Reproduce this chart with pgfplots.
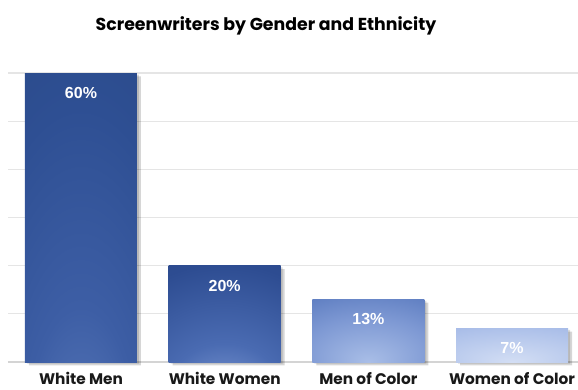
\documentclass[border=0pt]{standalone}
\usepackage{pgfplots}
\pgfplotsset{compat=1.18}
\usepackage{fontspec}
\setmainfont{Liberation Sans}
\newfontfamily\popp{Poppins}
\definecolor{aIn}{HTML}{6282C1}
\definecolor{aM1}{HTML}{3D5EA5}
\definecolor{aM2}{HTML}{2E4F93}
\definecolor{aM3}{HTML}{27457F}
\definecolor{aOut}{HTML}{223D76}
\definecolor{bIn}{HTML}{8AA5DC}
\definecolor{bM1}{HTML}{4A6BB2}
\definecolor{bM2}{HTML}{2D4C91}
\definecolor{bOut}{HTML}{223E79}
\definecolor{cIn}{HTML}{A9BEE7}
\definecolor{cM1}{HTML}{7D98D3}
\definecolor{cM2}{HTML}{4D6FB7}
\definecolor{cOut}{HTML}{3A5CA8}
\definecolor{dIn}{HTML}{D3DEF4}
\definecolor{dM1}{HTML}{AFC2EA}
\definecolor{dOut}{HTML}{8CA5DD}
\pgfdeclareradialshading{barA}{\pgfpoint{0bp}{-50bp}}{color(0bp)=(aIn); color(25bp)=(aM1); color(50bp)=(aM2); color(80bp)=(aM3); color(100bp)=(aOut); color(130bp)=(aOut)}
\pgfdeclareradialshading{barB}{\pgfpoint{0bp}{-50bp}}{color(0bp)=(bIn); color(25bp)=(bM1); color(55bp)=(bM2); color(100bp)=(bOut); color(130bp)=(bOut)}
\pgfdeclareradialshading{barC}{\pgfpoint{0bp}{-25bp}}{color(0bp)=(cIn); color(30bp)=(cM1); color(60bp)=(cM2); color(90bp)=(cOut); color(130bp)=(cOut)}
\pgfdeclareradialshading{barD}{\pgfpoint{0bp}{-25bp}}{color(0bp)=(dIn); color(40bp)=(dM1); color(80bp)=(dOut); color(130bp)=(dOut)}
\begin{document}
\begin{tikzpicture}
\useasboundingbox (0,0) rectangle (433.5pt,291.75pt);
\node[anchor=base, font=\popp\bfseries\fontsize{13}{15}\selectfont, inner sep=0pt] at (199.5pt,269pt) {Screenwriters by Gender and Ethnicity};
\begin{axis}[
  at={(6pt,20.25pt)}, anchor=south west,
  scale only axis, width=427.5pt, height=216.75pt,
  xmin=-0.508, xmax=3.459, ymin=0, ymax=60,
  clip=false,
  /pgf/number format/assume math mode=true,
  axis line style={draw=none},
  major tick length=0pt,
  ytick={10,20,30,40,50,60}, yticklabels={},
  ymajorgrids, grid style={draw=black!10, line width=0.8pt},
  extra y ticks={0}, extra y tick labels={}, extra y tick style={grid style={draw=black!17, line width=0.9pt}},
  xtick={0,1,2,3},
  xticklabels={White Men, White Women, Men of Color, Women of Color},
  xticklabel style={anchor=base, yshift=-16.5pt, inner sep=0pt, font=\popp\bfseries\fontsize{11.5}{13}\selectfont, text=black!90},
  ybar, bar width=84pt, bar shift=0pt,
  nodes near coords={\pgfmathprintnumber{\pgfplotspointmeta}\%},
  nodes near coords align={center},
  every node near coord/.append style={anchor=center, yshift=-15pt, font=\bfseries\fontsize{12}{14}\selectfont, text=white},
]
\addplot[draw=none, fill=black, fill opacity=0.16, xshift=3pt, yshift=-2.5pt, nodes near coords={}] coordinates {(0,60) (1,20) (2,13) (3,7)};
\addplot[draw=none, fill=black, fill opacity=0.14, xshift=1.5pt, yshift=-1.2pt, nodes near coords={}] coordinates {(0,60) (1,20) (2,13) (3,7)};
\addplot[draw=none, shading=barA] coordinates {(0,60)};
\addplot[draw=none, shading=barB] coordinates {(1,20)};
\addplot[draw=none, shading=barC] coordinates {(2,13)};
\addplot[draw=none, shading=barD] coordinates {(3,7)};
\end{axis}
\end{tikzpicture}
\end{document}
